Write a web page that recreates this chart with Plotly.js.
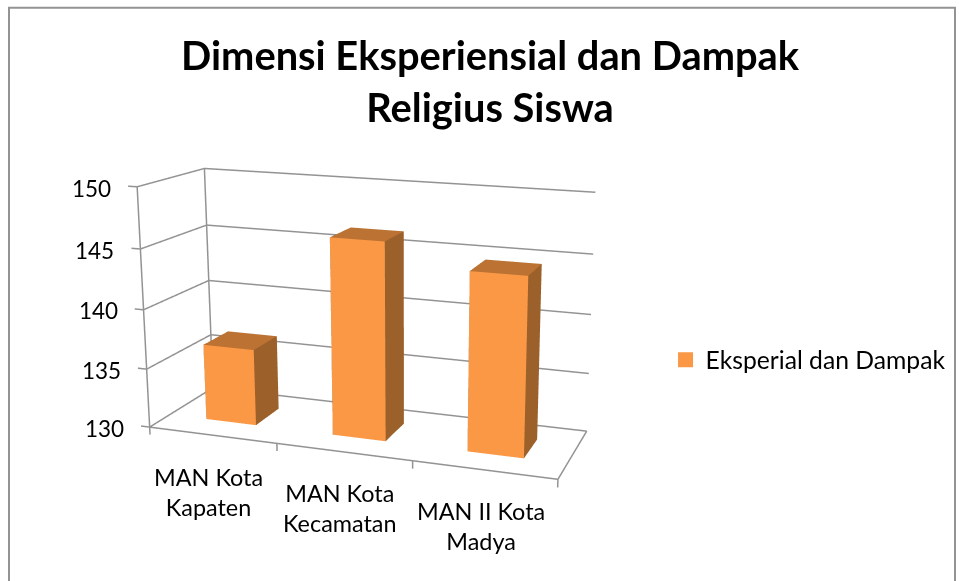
<!DOCTYPE html>
<html><head><meta charset="utf-8">
<script src="https://cdn.plot.ly/plotly-3.0.1.min.js"></script>
<style>html,body{margin:0;padding:0;background:#fff;overflow:hidden}#w{position:absolute;left:0;top:0;width:959px;height:581px;overflow:hidden}#c{position:absolute;left:0}</style></head><body><div id="w"><div id="c"></div></div>
<script>
const categories = ['MAN Kota<br>Kapaten','MAN Kota<br>Kecamatan','MAN II Kota<br>Madya'];
const values = [136.5, 146.4, 144.6];
const seriesName = 'Eksperial dan Dampak';
const yTicks = [130,135,140,145,150];

// Camera fitted to the reference's perspective. Excel's view is narrower than Plotly's fixed 45° field,
// so the plot is taller than the window and is offset inside a clipped wrapper.
const Hp = 1003.39, ppy = 275.23;
const Top = Hp/2 - ppy;
document.getElementById('c').style.top = (-Top)+'px';
const Y = v => 1-(v+Top)/Hp;
const base = {eye:[1.6549,-4.1422,1.2040], center:[0.2516,0.6421,0.0198], aspect:[1.6219,0.5008,0.9418], up:[0.0062,-0.0696,1]};
const xr=[-0.085,3.015], yr=[-0.01,1.01], zr=[129.3,150.1];
const tickX=-0.07, tickZ=129.35, halfW=0.2, d0=0.301, d1=0.703;
const A={x:base.aspect[0]*(xr[1]-xr[0])/3,y:base.aspect[1]*(yr[1]-yr[0]),z:base.aspect[2]*(zr[1]-zr[0])/20};
const del=[base.aspect[0]*((xr[0]+xr[1])/6-.5),base.aspect[1]*((yr[0]+yr[1])/2-.5),base.aspect[2]*(((zr[0]+zr[1])/2-130)/20-.5)];
const shift=a=>({x:a[0]-del[0],y:a[1]-del[1],z:a[2]-del[2]});

const tr=[];
const L={type:'scatter3d',mode:'lines',line:{color:'#939393',width:3},showlegend:false,hoverinfo:'skip'};
yTicks.forEach(z=>tr.push({...L,x:[tickX,0,0,3],y:[0,0,1,1],z:[z,z,z,z]}));
tr.push({...L,x:[0,0],y:[0,0],z:[130,150]});
tr.push({...L,x:[0,0],y:[1,1],z:[130,150]});
tr.push({...L,x:[0,3,3],y:[0,0,1],z:[130,130,130]});
[0,1,2,3].forEach(i=>tr.push({...L,x:[i,i],y:[0,0],z:[tickZ,130]}));
categories.forEach((c,i)=>{
  const v=values[i],x0=i+.5-halfW,x1=i+.5+halfW;
  tr.push({type:'mesh3d',x:[x0,x1,x1,x0,x0,x1,x1,x0],y:[d0,d0,d1,d1,d0,d0,d1,d1],z:[130,130,130,130,v,v,v,v],
    i:[0,0,4,4,0,0,1,1,2,2,3,3],j:[1,2,5,6,1,5,2,6,3,7,0,4],k:[2,3,6,7,5,4,6,5,7,6,4,7],
    facecolor:['#9c602a','#9c602a','#bb7232','#bb7232','#fa9846','#fa9846','#9c602a','#9c602a','#9c602a','#9c602a','#9c602a','#9c602a'],
    flatshading:true,showscale:false,showlegend:false,hoverinfo:'skip',lighting:{ambient:1,diffuse:0,specular:0,roughness:1,fresnel:0}});
});
tr.push({type:'scatter3d',mode:'markers',x:[null],y:[null],z:[null],name:seriesName,marker:{symbol:'square',size:15,color:'#fa9846'},showlegend:true,hoverinfo:'skip'});

const axc={title:{text:''},showgrid:false,showline:false,showbackground:false,showticklabels:false,zeroline:false,ticks:'',showspikes:false};
const ann=[];
yTicks.forEach(z=>ann.push({x:tickX,y:0,z:z,text:String(z),showarrow:false,xanchor:'right',yanchor:'middle',xshift:-15,yshift:-2,font:{family:'Lato',size:22.5,color:'#000'}}));
categories.forEach((c,i)=>ann.push({x:i+.5,y:0,z:130,text:c,showarrow:false,xanchor:'center',yanchor:'middle',xshift:-3.5,yshift:-56.5,font:{family:'Lato',size:23.4,color:'#000'}}));

Plotly.newPlot('c',tr,{width:959,height:Hp,margin:{l:0,r:0,t:0,b:0},paper_bgcolor:'#fff',
  title:{text:'<b>Dimensi Eksperiensial dan Dampak</b><br><b>Religius Siswa</b>',font:{family:'Lato',size:39.8,color:'#000'},x:0.511,xanchor:'center',y:Y(70),yanchor:'top'},
  showlegend:true,legend:{x:0.694,y:Y(360),xanchor:'left',yanchor:'middle',bgcolor:'rgba(0,0,0,0)',font:{family:'Lato',size:24.7,color:'#000'}},
  scene:{domain:{x:[0,1],y:[0,1]},aspectmode:'manual',aspectratio:A,
    camera:{eye:shift(base.eye),center:shift(base.center),up:{x:base.up[0],y:base.up[1],z:base.up[2]},projection:{type:'perspective'}},
    xaxis:{...axc,range:xr},yaxis:{...axc,range:yr},zaxis:{...axc,range:zr},annotations:ann},
  shapes:[{type:'rect',xref:'paper',yref:'paper',x0:9/959,x1:955/959,y0:Y(640),y1:Y(7.5),line:{color:'#939393',width:2}}]
},{displayModeBar:false});
</script></body></html>
